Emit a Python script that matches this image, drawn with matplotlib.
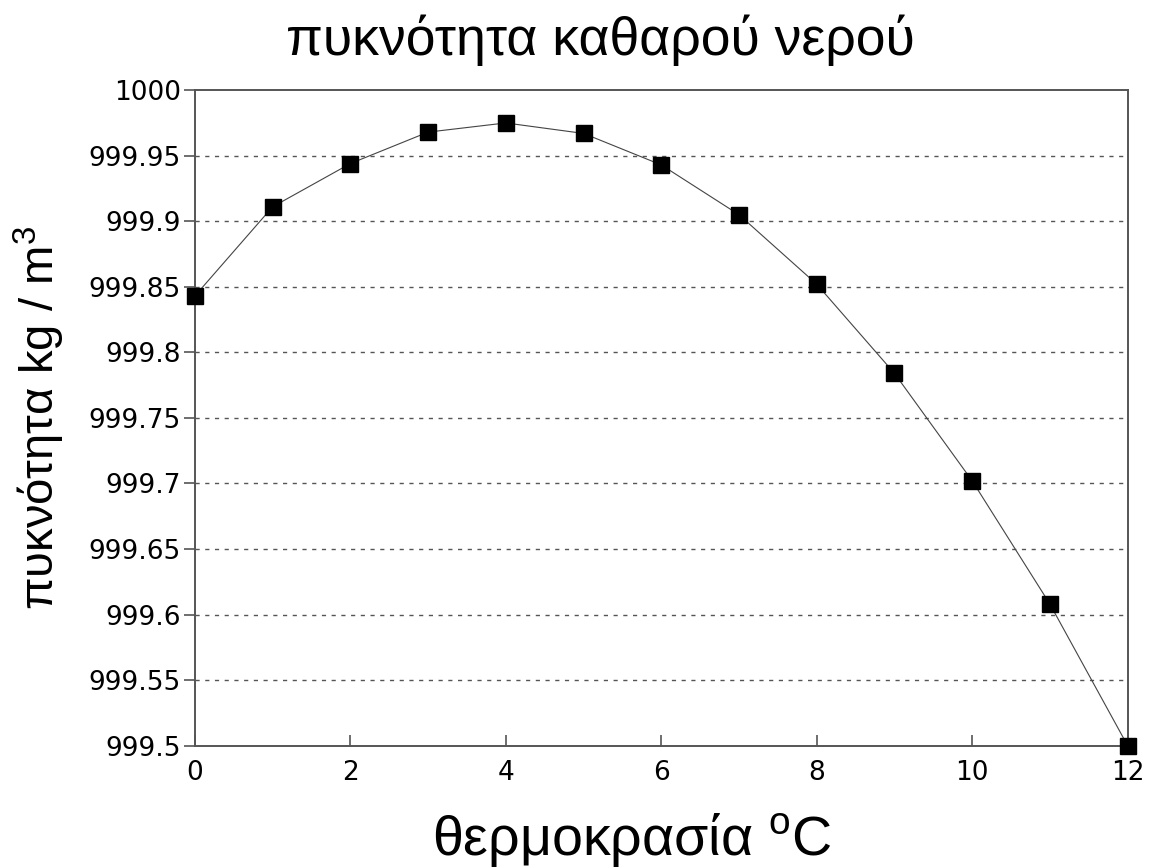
import matplotlib
matplotlib.use("Agg")
import matplotlib.pyplot as plt

plt.rcParams['font.family'] = ['Liberation Sans', 'DejaVu Sans']
plt.rcParams['mathtext.fontset'] = 'custom'
plt.rcParams['mathtext.rm'] = 'Liberation Sans'

# temperature (oC) and density of pure water (kg/m3)
temperature = [0, 1, 2, 3, 4, 5, 6, 7, 8, 9, 10, 11, 12]
density = [999.843, 999.911, 999.944, 999.968, 999.975, 999.967, 999.943,
           999.905, 999.852, 999.784, 999.702, 999.608, 999.500]

y_ticks = [999.5, 999.55, 999.6, 999.65, 999.7, 999.75, 999.8, 999.85,
           999.9, 999.95, 1000]
y_labels = ["999.5", "999.55", "999.6", "999.65", "999.7", "999.75", "999.8",
            "999.85", "999.9", "999.95", "1000"]
x_ticks = [0, 2, 4, 6, 8, 10, 12]

fig = plt.figure(figsize=(11.53, 8.67), dpi=100)
ax = fig.add_axes([0.169, 0.140, 0.809, 0.756])

ax.plot(temperature, density, color="#444444", linewidth=0.8,
        marker="s", markersize=11, markerfacecolor="black",
        markeredgecolor="black", clip_on=False, zorder=3)

ax.set_xlim(0, 12)
ax.set_ylim(999.5, 1000)
ax.set_yticks(y_ticks)
ax.set_yticklabels(y_labels, family="DejaVu Sans")
ax.set_xticks(x_ticks)
ax.set_xticklabels([str(x) for x in x_ticks], family="DejaVu Sans")

for y in y_ticks[1:-1]:
    ax.axhline(y, color="#555555", linestyle=(0, (3, 4)), linewidth=1.0, zorder=1)

for s in ax.spines.values():
    s.set_color("#555555")
    s.set_linewidth(1.4)

ax.tick_params(axis="y", direction="out", length=8, width=1.2, color="#555555",
               labelsize=19, pad=2)
ax.tick_params(axis="x", direction="in", length=8, width=1.2, color="#555555",
               labelsize=19, pad=10)

fig.text(600 / 1153, 1 - 40 / 867, "πυκνότητα καθαρού νερού",
         fontsize=38.5, ha="center", va="center")
ax.set_xlabel(r"θερμοκρασία $^{\mathrm{o}}$C", fontsize=40)
ax.xaxis.set_label_coords((632 - 195) / 933, (746 - 840) / 656)
ax.xaxis.label.set_va("center")
ax.set_ylabel(r"πυκνότητα kg / m$^{3}$", fontsize=34)
ax.yaxis.set_label_coords((40 - 195) / 933, 0.5)
ax.yaxis.label.set_va("center")

fig.savefig("out.png", dpi=100)
